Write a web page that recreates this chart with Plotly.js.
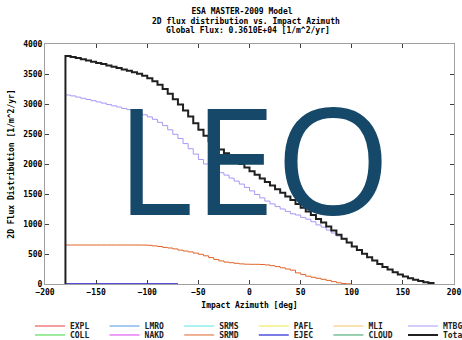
<!DOCTYPE html>
<html>
<head>
<meta charset="utf-8">
<script src="https://cdn.plot.ly/plotly-3.0.1.min.js"></script>
<style>html,body{margin:0;padding:0;background:#fff;}#chart{width:462px;height:340px;}</style>
</head>
<body>
<div id="chart"></div>
<script>
// Bin left edges (deg), 5-degree bins from -180 to 180
var binEdges = [];
for (var b = -180; b < 180; b += 5) binEdges.push(b);

// Total flux per bin [1/m^2/yr]
var totalFlux = [3800,3785,3765,3745,3725,3705,3685,3665,3640,3620,3600,3575,3555,3530,3505,3470,
  3430,3380,3320,3250,3170,3080,2990,2890,2790,2680,2570,2470,2380,2305,2240,2180,2120,2060,2000,1940,
  1880,1820,1760,1700,1640,1580,1520,1460,1400,1335,1270,1210,1150,1085,1025,960,890,820,755,690,
  625,565,505,445,390,335,285,240,195,160,125,95,70,50,30,15];

// MTBG flux per bin
var mtbgFlux = [3150,3135,3115,3095,3075,3055,3035,3015,2990,2970,2950,2925,2905,2880,2855,2820,
  2785,2745,2695,2640,2570,2495,2425,2340,2255,2165,2075,2000,1940,1895,1855,1815,1765,1715,1665,1610,
  1552,1492,1435,1382,1335,1290,1250,1210,1170,1150,1110,1080,1038,985,947,900,850,800,747,687,
  625,565,505,445,390,335,285,240,195,160,125,95,70,50,30,15];

// SRMD flux per bin (bins -180 .. 95)
var srmdFlux = [650,650,650,650,650,650,650,650,650,650,650,650,650,650,650,648,
  645,635,625,610,600,585,565,550,535,515,495,470,440,410,385,365,355,345,335,330,
  328,328,325,318,305,290,270,250,230,185,160,130,112,95,78,60,40,20,8,3];

// EJEC flux per bin (bins -180 .. -75)
var ejecFlux = [4,4,4,4,4,4,4,4,4,4,4,4,4,4,4,4,4,4,4,4,4,4];

var seriesNames = ['EXPL','COLL','LMRO','NAKD','SRMS','SRMD','PAFL','EJEC','MLI','CLOUD','MTBG','Total'];
var seriesColors = ['#e83c3c','#3cd83c','#4a96e6','#de3cf0','#58e4e4','#e0642a','#ece64a','#5050dc','#f4c466','#30a060','#a898f4','#202020'];
var seriesLegend = ['legend','legend2','legend','legend2','legend','legend2','legend','legend2','legend','legend2','legend','legend2'];

var titleLines = ['ESA MASTER-2009 Model', '2D flux distribution vs. Impact Azimuth', 'Global Flux: 0.3610E+04 [1/m^2/yr]'];

function stepSeries(values, closeStart, closeEnd) {
  var xs = [], ys = [];
  if (closeStart) { xs.push(binEdges[0]); ys.push(0); }
  for (var i = 0; i < values.length; i++) { xs.push(binEdges[i]); ys.push(values[i]); }
  var endEdge = binEdges[values.length - 1] + 5;
  xs.push(endEdge); ys.push(closeEnd ? 0 : values[values.length - 1]);
  return {x: xs, y: ys};
}

var dataMap = {
  'SRMD': stepSeries(srmdFlux, false, false),
  'EJEC': stepSeries(ejecFlux, false, false),
  'MTBG': stepSeries(mtbgFlux, false, true),
  'Total': stepSeries(totalFlux, true, true)
};

var mono = 'DejaVu Sans Mono, Liberation Mono, monospace';
var traces = seriesNames.map(function(name, i) {
  // sources without visible flux: a single empty sample keeps the legend entry
  var d = dataMap[name] || {x: [binEdges[0]], y: [null]};
  return {
    type: 'scatter', mode: 'lines', name: name,
    x: d.x, y: d.y,
    line: {color: seriesColors[i], width: name === 'Total' ? 2 : (name === 'EJEC' ? 1.5 : 1), shape: 'hv'},
    legend: seriesLegend[i],
    hoverinfo: 'skip'
  };
});

var legendCommon = {
  orientation: 'h', xref: 'paper', yref: 'paper', x: -0.0367, xanchor: 'left', yanchor: 'top',
  entrywidth: 29.6, entrywidthmode: 'pixels', bgcolor: 'rgba(0,0,0,0)', borderwidth: 0,
  font: {family: mono, size: 8, color: '#202020', weight: 'bold'}, tracegroupgap: 0
};

function py(pix) { return (284 - pix) / 240; }
function px(pix) { return (pix - 45) / 409; }
var smallBold = {family: mono, size: 8, color: '#000', weight: 'bold'};

var layout = {
  width: 462, height: 340,
  margin: {l: 45, r: 8, t: 44, b: 56, autoexpand: false},
  paper_bgcolor: '#ffffff', plot_bgcolor: '#ffffff',
  font: {family: mono, size: 8, color: '#000000'},
  title: {text: titleLines[0], xref: 'container', yref: 'container', x: 242/462, xanchor: 'center',
          y: 1 - 11.5/340, yanchor: 'middle', font: smallBold},
  showlegend: true,
  legend: Object.assign({}, legendCommon, {y: -0.1146}),
  legend2: Object.assign({}, legendCommon, {y: -0.152}),
  xaxis: {
    range: [-200, 200], dtick: 50, tick0: -200, ticks: 'inside', ticklen: 4, tickcolor: '#404040', tickwidth: 1,
    showline: true, linecolor: '#a0a0a0', linewidth: 1, mirror: 'ticks', showgrid: false, zeroline: false,
    tickfont: smallBold,
    title: {text: 'Impact Azimuth [deg]', standoff: 6, font: smallBold}
  },
  yaxis: {
    range: [0, 4000], dtick: 500, tick0: 0, ticks: 'inside', ticklen: 4, tickcolor: '#404040', tickwidth: 1,
    showline: true, linecolor: '#a0a0a0', linewidth: 1, mirror: 'ticks', showgrid: false, zeroline: false,
    tickfont: smallBold,
    title: {text: '2D Flux Distribution [1/m^2/yr]', standoff: 7, font: smallBold}
  },
  annotations: [
    {text: titleLines[1], xref: 'paper', yref: 'paper', x: px(246), y: py(21.3),
     xanchor: 'center', yanchor: 'middle', showarrow: false, font: smallBold},
    {text: titleLines[2], xref: 'paper', yref: 'paper', x: px(248), y: py(31),
     xanchor: 'center', yanchor: 'middle', showarrow: false, font: smallBold},
    {text: 'LEO', xref: 'paper', yref: 'paper', x: px(253.5), y: py(157.5),
     xanchor: 'center', yanchor: 'middle', showarrow: false,
     font: {family: 'Open Sans, Noto Sans, sans-serif', size: 148, color: '#16486a', weight: 'normal'}}
  ]
};

Plotly.newPlot('chart', traces, layout, {staticPlot: true, displayModeBar: false});
</script>
</body>
</html>
